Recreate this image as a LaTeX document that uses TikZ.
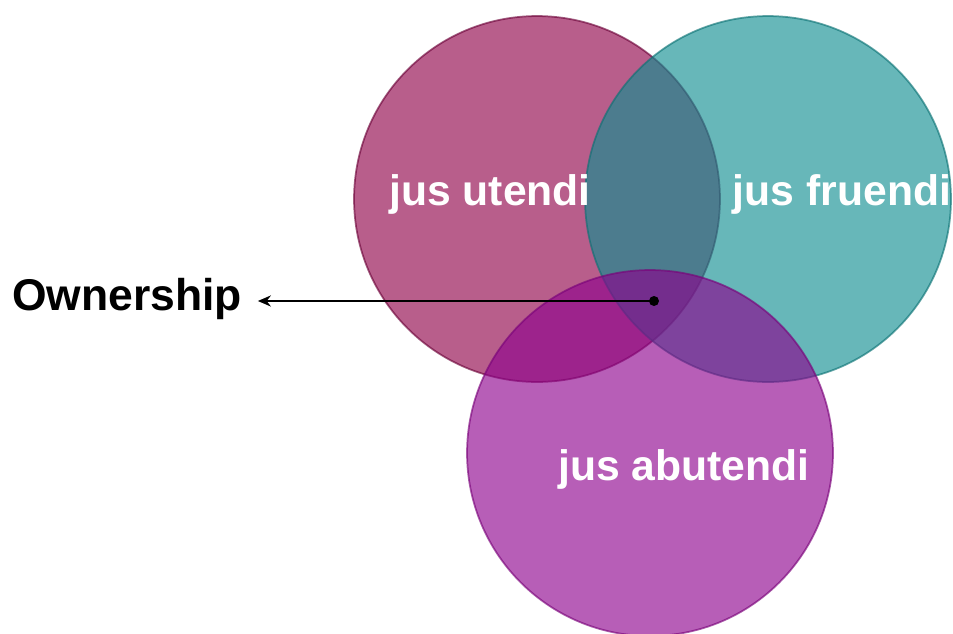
\documentclass[tikz,border=0pt]{standalone}
\usepackage{fontspec}
\setmainfont{Liberation Sans}
\usetikzlibrary{arrows.meta}
\definecolor{utendicol}{RGB}{142,0,72}
\definecolor{fruendicol}{RGB}{14,141,144}
\definecolor{abutendicol}{RGB}{141,0,141}
\tikzset{
	venn/.style={opacity=0.63, line width=0.035cm},
	lbl/.style={text=white, font=\bfseries\fontsize{24.3}{29}\selectfont, inner sep=0pt, anchor=base},
	pointer/.style={line width=0.05cm, -{Stealth[length=2.6mm,width=2.2mm]}}
}

\begin{document}
\begin{tikzpicture}[x=0.02cm, y=-0.02cm]
			%%%%% START %%%%%
			\useasboundingbox (0, 0) rectangle (953, 633);
			
			\draw[venn, fill=utendicol, draw=utendicol!75!black] (537, 199) circle [radius=3.66cm];
			\draw[venn, fill=fruendicol, draw=fruendicol!80!black] (768, 199) circle [radius=3.66cm];
			\draw[venn, fill=abutendicol, draw=abutendicol!85!black] (650, 453) circle [radius=3.66cm];
			
			\node[lbl] (utendi) at (490, 205) {jus utendi};
			\node[lbl] (fruendi) at (842, 205) {jus fruendi};
			\node[lbl] (abutendi) at (684, 480) {jus abutendi};
			
			\node[inner sep=0pt, outer xsep=0.32cm, anchor=base, font=\bfseries\fontsize{25.3}{30}\selectfont] (own) at (127, 310) {Ownership};
			
			\fill (654, 301) circle [radius=0.1cm];
			\coordinate (core) at (654, 301);
			\draw[pointer] (core) -- (core -| own.east);
			%%%%% END %%%%%
		\end{tikzpicture}
\end{document}
